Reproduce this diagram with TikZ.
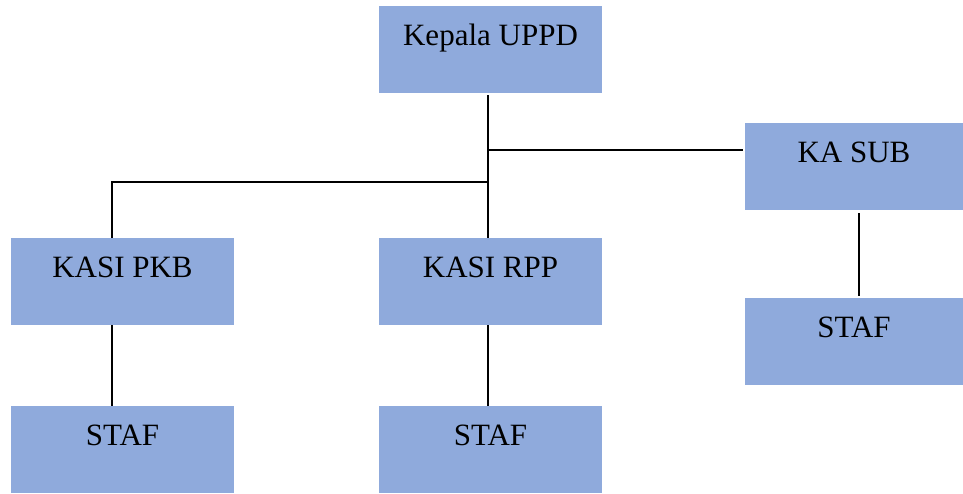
\documentclass[tikz,border=0pt]{standalone}
\usepackage{fontspec}
\setmainfont{Liberation Serif}
\definecolor{boxblue}{RGB}{143,170,220}
\tikzset{
  orgbox/.style={fill=boxblue, draw=none, inner sep=0pt, anchor=north,
    minimum width=223pt, text height=39pt, text depth=48pt,
    font=\fontsize{31}{31}\selectfont},
  widebox/.style={orgbox, minimum width=218pt},
  link/.style={draw=black, line width=1.2pt}
}
\begin{document}
\begin{tikzpicture}[x=1pt,y=-1pt]
\useasboundingbox (0,0) rectangle (963,493);
\node[orgbox] (kepala) at (490.5,6) {Kepala UPPD};
\node[widebox] (kasub) at (854,123) {KA SUB};
\node[orgbox] (pkb) at (122.5,238) {KASI PKB};
\node[orgbox] (rpp) at (490.5,238) {KASI RPP};
\node[widebox] (staf3) at (854,298) {STAF};
\node[orgbox] (staf1) at (122.5,406) {STAF};
\node[orgbox] (staf2) at (490.5,406) {STAF};
\coordinate (jA) at (488,150);
\coordinate (jB) at (488,182);
\coordinate (jC) at (112,182);
\draw[link] ([xshift=-2.5pt,yshift=-2pt]kepala.south) -- ([xshift=-2.5pt]rpp.north);
\draw[link] (jA) -- ([xshift=-2pt]kasub.west |- jA);
\draw[link] (jB) -- (jC) -- (jC |- pkb.north);
\draw[link] (jC |- pkb.south) -- (jC |- staf1.north);
\draw[link] ([xshift=-2.5pt]rpp.south) -- ([xshift=-2.5pt]staf2.north);
\draw[link] ([xshift=5pt,yshift=-3pt]kasub.south) -- ([xshift=5pt,yshift=2pt]staf3.north);
\end{tikzpicture}
\end{document}
